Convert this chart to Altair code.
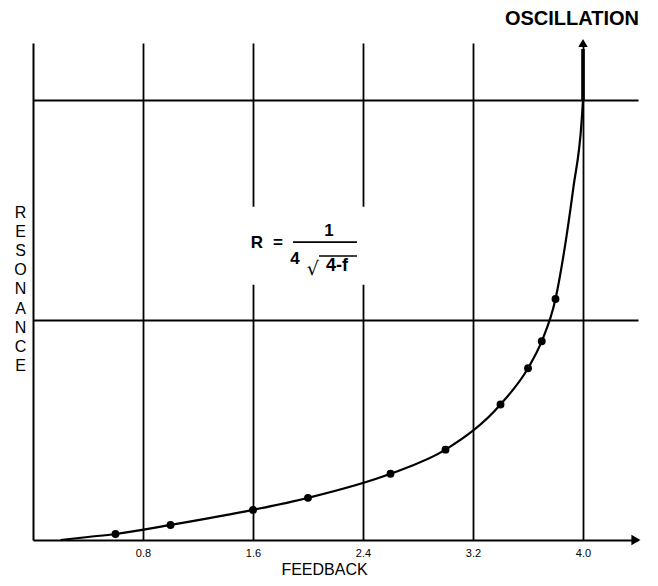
import altair as alt
import pandas as pd

# ---- data ----
dot_feedback = [0.6, 1.0, 1.6, 2.0, 2.6, 3.0, 3.4, 3.6, 3.7, 3.8]
dot_resonance = [0.72, 0.75, 0.80, 0.84, 0.92, 1.00, 1.15, 1.27, 1.36, 1.50]

curve_feedback = [0.2, 0.4, 0.6, 1.0, 1.6, 2.0, 2.6, 3.0, 3.4, 3.6, 3.7, 3.8, 3.86, 3.93, 3.99, 4.0]
curve_resonance = [0.70, 0.71, 0.72, 0.75, 0.80, 0.84, 0.92, 1.00, 1.15, 1.27, 1.36, 1.50, 1.65, 1.87, 2.09, 2.16]

x_ticks = [0.8, 1.6, 2.4, 3.2, 4.0]
y_grid = [1.43, 2.16]
x_domain = [0, 4.4]
y_domain = [0.7, 2.35]

FONT = "Liberation Sans"

dots = pd.DataFrame({"f": dot_feedback, "r": dot_resonance})
curve = pd.DataFrame({"f": curve_feedback, "r": curve_resonance})

X = alt.X("f:Q", scale=alt.Scale(domain=x_domain, nice=False, zero=False),
          axis=alt.Axis(values=x_ticks, format=".1f", grid=True, gridColor="black",
                        gridWidth=1.8, gridOpacity=1, ticks=False, domain=True,
                        domainColor="black", domainWidth=2, labelFont=FONT,
                        labelFontSize=11, labelColor="black", labelPadding=7,
                        title="FEEDBACK", titleFont=FONT, titleFontSize=16,
                        titleFontWeight="normal", titleColor="black",
                        titleX=291, titleAlign="center",
                        titleY=29, titleBaseline="middle"))
Y = alt.Y("r:Q", scale=alt.Scale(domain=y_domain, nice=False, zero=False),
          axis=alt.Axis(values=y_grid, grid=True, gridColor="black", gridWidth=1.8,
                        gridOpacity=1, ticks=False, labels=False, domain=True,
                        domainColor="black", domainWidth=2,
                        title=["R", "E", "S", "O", "N", "A", "N", "C", "E"],
                        titleAngle=0, titleFont=FONT, titleFontSize=16,
                        titleFontWeight="normal", titleColor="black",
                        titleLineHeight=19.2, titleX=-13, titleY=169,
                        titleAlign="center", titleBaseline="middle"))

# white box that breaks the gridlines behind the formula
box = pd.DataFrame({"f": [1.578], "f2": [2.429], "r": [1.547], "r2": [1.806]})
box_layer = alt.Chart(box).mark_rect(color="white").encode(
    x=X, x2="f2:Q", y=Y, y2="r2:Q")

line_layer = alt.Chart(curve).mark_line(color="black", strokeWidth=2.2,
                                        interpolate="monotone").encode(x=X, y=Y)
dot_layer = alt.Chart(dots).mark_circle(color="black", size=62, opacity=1).encode(x=X, y=Y)

# thick part of the 4.0 line up to the arrow
osc = pd.DataFrame({"f": [4.0], "r": [2.16], "r2": [2.33]})
osc_rule = alt.Chart(osc).mark_rule(color="black", strokeWidth=3.6).encode(
    x=X, y=Y, y2="r2:Q")

up_arrow = alt.Chart(pd.DataFrame({"f": [4.0], "r": [2.35]})).mark_point(
    shape="triangle-up", filled=True, color="black", size=90, opacity=1).encode(x=X, y=Y)
right_arrow = alt.Chart(pd.DataFrame({"f": [4.385], "r": [0.70]})).mark_point(
    shape="triangle-right", filled=True, color="black", size=110, opacity=1).encode(x=X, y=Y)

# formula
big = pd.DataFrame({"f": [1.629, 1.782, 2.153, 1.905],
                    "r": [1.686, 1.686, 1.726, 1.633],
                    "t": ["R", "=", "1", "4"]})
big_layer = alt.Chart(big).mark_text(font=FONT, fontSize=17, fontWeight="bold",
                                     color="black", baseline="middle").encode(
    x=X, y=Y, text="t:N")
rad = pd.DataFrame({"f": [2.210], "r": [1.610], "t": ["4-f"]})
rad_layer = alt.Chart(rad).mark_text(font=FONT, fontSize=18, fontWeight="bold",
                                     color="black", baseline="middle").encode(
    x=X, y=Y, text="t:N")
root = pd.DataFrame({"f": [2.035], "r": [1.600], "t": ["√"]})
root_layer = alt.Chart(root).mark_text(font="DejaVu Sans", fontSize=19,
                                       color="black", baseline="middle").encode(
    x=X, y=Y, text="t:N")
bars = pd.DataFrame({"f": [1.891, 2.080], "f2": [2.356, 2.356], "r": [1.689, 1.643]})
bar_layer = alt.Chart(bars).mark_rule(color="black", strokeWidth=1.6).encode(
    x=X, x2="f2:Q", y=Y)

label = pd.DataFrame({"f": [3.92], "r": [2.43], "t": ["OSCILLATION"]})
label_layer = alt.Chart(label).mark_text(font=FONT, fontSize=20, fontWeight="bold",
                                         color="black", baseline="middle").encode(
    x=X, y=Y, text="t:N")

chart = alt.layer(
    box_layer, line_layer, dot_layer, osc_rule, up_arrow, right_arrow,
    big_layer, rad_layer, root_layer, bar_layer, label_layer
).properties(
    width=605, height=497,
    padding={"left": 25, "top": 35, "right": 12, "bottom": 38},
    autosize=alt.AutoSizeParams(type="none"),
    background="white",
).configure_view(stroke=None)

chart.save("out.html", embed_options={"renderer": "svg", "actions": False})
